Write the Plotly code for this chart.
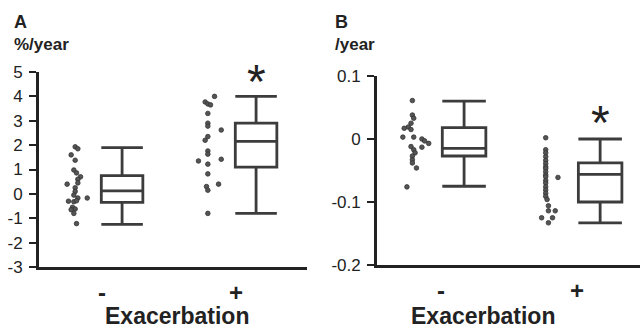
import plotly.graph_objects as go

# ---------------- data ----------------
categories = ["-", "+"]
x_title = "Exacerbation"

# Panel A (%/year)
a_neg_dots = [1.93, 1.85, 1.6, 1.38, 0.98, 0.86, 0.7, 0.6, 0.4, 0.45, 0.25, 0.1,
              -0.05, -0.17, -0.17, -0.3, -0.32, -0.28, -0.55, -0.62, -0.65, -0.8, -1.22]
a_neg_jit = [0.0, 0.02, -0.03, 0.0, -0.01, 0.01, 0.04, 0.02, -0.06, 0.02, 0.0, 0.0,
             -0.01, 0.09, 0.02, -0.05, -0.01, 0.01, -0.02, 0.0, -0.03, -0.01, 0.01]
a_pos_dots = [4.0, 3.77, 3.69, 3.65, 3.3, 2.9, 2.78, 2.62, 2.2, 2.35, 1.76, 1.63,
              1.35, 1.42, 1.22, 0.82, 0.4, 0.3, 0.15, -0.8]
a_pos_jit = [0.04, -0.03, -0.01, 0.01, -0.01, -0.01, -0.01, 0.09, -0.03, -0.01, -0.01, -0.01,
             -0.08, 0.09, -0.01, -0.01, 0.07, -0.02, -0.01, -0.01]
a_box = {  # q1, median, q3, low whisker, high whisker
    "-": [-0.35, 0.12, 0.75, -1.25, 1.9],
    "+": [1.1, 2.15, 2.9, -0.8, 4.0],
}
a_yticks = [-3, -2, -1, 0, 1, 2, 3, 4, 5]
a_ticktext = ["-3", "-2", "-1", "0", "1", "2", "3", "4", "5"]

# Panel B (/year)
b_neg_dots = [0.061, 0.038, 0.033, 0.025, 0.019, 0.017, 0.015, 0.003, 0.003, 0.0, -0.003,
              -0.007, -0.013, -0.012, -0.017, -0.022, -0.027, -0.033, -0.038, -0.046, -0.076]
b_neg_jit = [0.0, 0.0, 0.01, -0.01, -0.03, -0.06, -0.01, -0.07, 0.01, 0.07, 0.09,
             0.12, 0.07, -0.01, 0.01, 0.02, 0.0, 0.0, 0.0, 0.03, -0.04]
b_pos_dots = [0.002, -0.017, -0.022, -0.028, -0.034, -0.039, -0.044, -0.047, -0.052, -0.057,
              -0.060, -0.066, -0.070, -0.076, -0.081, -0.086, -0.091, -0.096, -0.106,
              -0.114, -0.114, -0.125, -0.125, -0.133, -0.061]
b_pos_jit = [-0.02, -0.02, -0.02, -0.02, -0.02, -0.02, -0.02, -0.02, -0.02, -0.02,
             -0.02, -0.02, -0.02, -0.02, -0.02, -0.02, -0.02, -0.01, 0.0,
             0.0, 0.05, -0.05, 0.03, 0.0, 0.07]
b_box = {
    "-": [-0.027, -0.015, 0.018, -0.075, 0.06],
    "+": [-0.10, -0.056, -0.038, -0.133, 0.0],
}
b_yticks = [-0.2, -0.1, 0, 0.1]
b_ticktext = ["-0.2", "-0.1", "0", "0.1"]

# ---------------- styling ----------------
FONT = "Liberation Sans, Arial, sans-serif"
INK = "#222222"
BOXC = "#3c3c3c"
DOTC = "#555555"
W, H = 640, 331

fig = go.Figure()

def add_panel(xa, ya, dots_neg, jit_neg, dots_pos, jit_pos, boxes, box_off, dot_off, bw):
    for i, (d, j) in enumerate([(dots_neg, jit_neg), (dots_pos, jit_pos)]):
        fig.add_trace(go.Scatter(
            x=[i + dot_off + jj for jj in j], y=d, mode="markers",
            marker=dict(size=4.6, color=DOTC, line=dict(width=0.8, color="#333")),
            xaxis=xa, yaxis=ya, showlegend=False, hoverinfo="y"))
    for i, c in enumerate(categories):
        q1, med, q3, lo, hi = boxes[c]
        fig.add_trace(go.Box(
            x=[i + box_off], q1=[q1], median=[med], q3=[q3],
            lowerfence=[lo], upperfence=[hi], width=bw, whiskerwidth=1,
            fillcolor="white", line=dict(color=BOXC, width=2.8),
            xaxis=xa, yaxis=ya, showlegend=False, name=c))

A_BOX_OFF, B_BOX_OFF = 0.15, 0.17
add_panel("x", "y", a_neg_dots, a_neg_jit, a_pos_dots, a_pos_jit, a_box, A_BOX_OFF, -0.2, 0.31)
add_panel("x2", "y2", b_neg_dots, b_neg_jit, b_pos_dots, b_pos_jit, b_box, B_BOX_OFF, -0.21, 0.32)

axis_common = dict(showline=True, linecolor=INK, linewidth=2.8, showgrid=False,
                   zeroline=False, mirror=False, automargin=False)
xtickfont = dict(size=24, weight="bold")
ytick_common = dict(ticks="outside", ticklen=7, tickwidth=1.5, tickcolor=INK,
                    tickfont=dict(size=17), ticklabelstandoff=3)

fig.update_layout(
    width=W, height=H, margin=dict(l=0, r=0, t=0, b=0, autoexpand=False),
    paper_bgcolor="white", plot_bgcolor="white",
    font=dict(family=FONT, color=INK),
    xaxis=dict(**axis_common, domain=[39 / W, 307 / W], range=[-0.47, 1.53], anchor="y",
               tickvals=[0, 1], ticktext=categories, ticks="",
               tickfont=xtickfont, ticklabelstandoff=2),
    yaxis=dict(**axis_common, **ytick_common, domain=[1 - 267 / H, 1 - 72 / H], range=[-3, 5],
               anchor="x", tickvals=a_yticks, ticktext=a_ticktext),
    xaxis2=dict(**axis_common, domain=[377 / W, 1.0], range=[-0.47, 1.463], anchor="y2",
                tickvals=[0, 1], ticktext=categories, ticks="",
                tickfont=xtickfont, ticklabelstandoff=2),
    yaxis2=dict(**axis_common, **ytick_common, domain=[1 - 265 / H, 1 - 76 / H],
                range=[-0.2, 0.1], anchor="x2", tickvals=b_yticks, ticktext=b_ticktext),
)

ann = [
    dict(text="<b>A</b>", x=12 / W, y=1 - 22 / H, xref="paper", yref="paper",
         xanchor="left", yanchor="middle", showarrow=False, font=dict(size=18)),
    dict(text="<b>%/year</b>", x=12 / W, y=1 - 45 / H, xref="paper", yref="paper",
         xanchor="left", yanchor="middle", showarrow=False, font=dict(size=17)),
    dict(text="<b>B</b>", x=333 / W, y=1 - 22 / H, xref="paper", yref="paper",
         xanchor="left", yanchor="middle", showarrow=False, font=dict(size=18)),
    dict(text="<b>/year</b>", x=333 / W, y=1 - 45 / H, xref="paper", yref="paper",
         xanchor="left", yanchor="middle", showarrow=False, font=dict(size=17)),
    dict(text=f"<b>{x_title}</b>", x=177 / W, y=0, xref="paper", yref="paper",
         xanchor="center", yanchor="bottom", showarrow=False, font=dict(size=23)),
    dict(text=f"<b>{x_title}</b>", x=483 / W, y=0, xref="paper", yref="paper",
         xanchor="center", yanchor="bottom", showarrow=False, font=dict(size=23)),
    dict(text="*", x=1 + A_BOX_OFF, y=4.88, xref="x", yref="y", showarrow=False,
         xanchor="center", yanchor="middle", yshift=-7, font=dict(size=48)),
    dict(text="*", x=1 + B_BOX_OFF, y=0.038, xref="x2", yref="y2", showarrow=False,
         xanchor="center", yanchor="middle", yshift=-7, font=dict(size=48)),
]
fig.update_layout(annotations=ann)

fig.write_html("out.html", config={"displayModeBar": False},
               post_script="document.body.style.margin='0';document.body.style.overflow='hidden';")
